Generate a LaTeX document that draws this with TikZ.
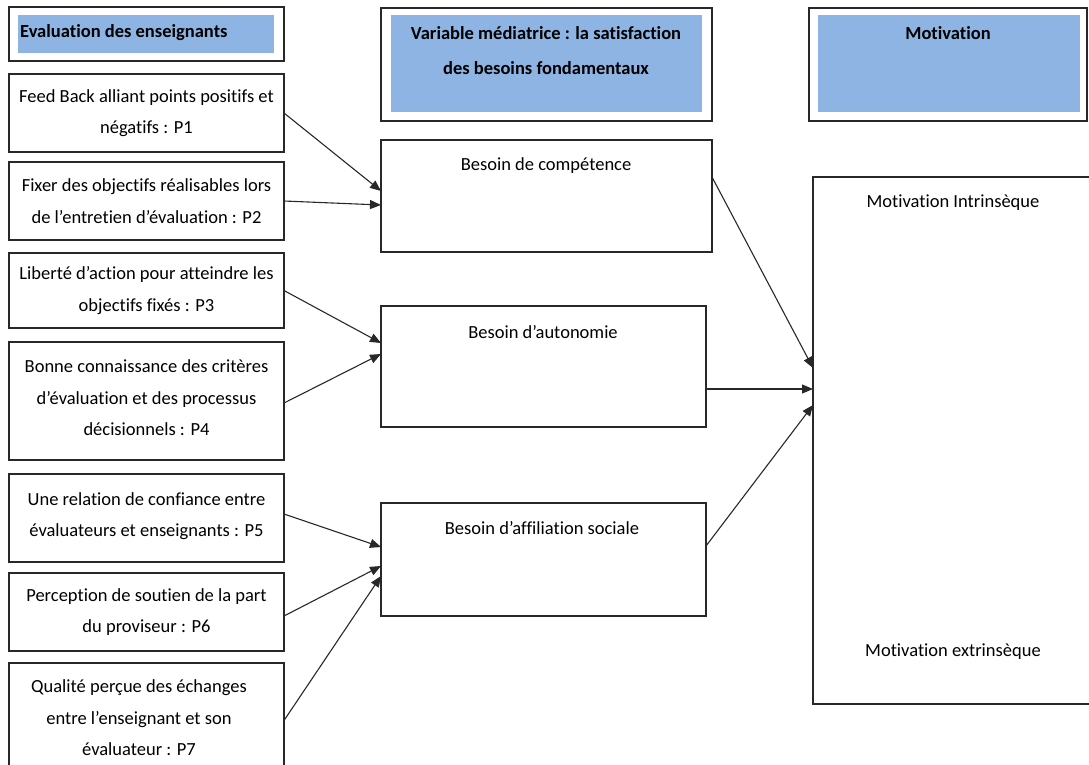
\documentclass[tikz,border=0pt]{standalone}
\usepackage{fontspec}
\setmainfont{Carlito}[Ligatures=NoCommon]
\usetikzlibrary{arrows.meta}
\definecolor{hdrblue}{RGB}{142,180,227}
\definecolor{edge}{RGB}{40,40,40}
\begin{document}
\begin{tikzpicture}[x=1pt,y=-1pt,
  frame/.style={draw=edge, line width=1.3pt, inner sep=0pt, outer sep=0pt, anchor=north west, fill=white},
  bluefill/.style={fill=hdrblue, draw=none, inner sep=0pt, outer sep=0pt, anchor=north west},
  txt/.style={inner sep=0pt, font=\fontsize{18.5}{31.5}\selectfont, align=center},
  hdtxt/.style={inner sep=0pt, font=\fontsize{18.5}{35}\selectfont\bfseries, align=center},
  arr/.style={draw=edge, line width=1.1pt, -{Triangle[length=11pt, width=9pt]}}
]
\useasboundingbox (0,0) rectangle (1089,764);
\clip (0,0) rectangle (1089,764);

% headers
\node[frame, minimum width=275pt, minimum height=54pt] (h1) at (9,7) {};
\node[bluefill, minimum width=256pt, minimum height=38pt] (h1b) at (18,15) {};
\node[hdtxt, anchor=west] (h1t) at (20,33) {Evaluation des enseignants};

\node[frame, minimum width=331pt, minimum height=113pt] (h2) at (381,8) {};
\node[bluefill, minimum width=311pt, minimum height=97pt] (h2b) at (391,15) {};
\node[hdtxt] (h2t) at (546,50.5) {Variable médiatrice : la satisfaction\\des besoins fondamentaux};

\node[frame, minimum width=278pt, minimum height=113pt] (h3) at (809,8) {};
\node[bluefill, minimum width=262pt, minimum height=97pt] (h3b) at (818,15) {};
\node[hdtxt] (h3t) at (948,33) {Motivation};

% left boxes
\node[frame, minimum width=275pt, minimum height=78pt] (p1) at (9,74) {};
\node[txt] (p1t) at (p1.center) {Feed Back alliant points positifs et\\négatifs : P1};
\node[frame, minimum width=275pt, minimum height=78pt] (p2) at (9,162) {};
\node[txt] (p2t) at (p2.center) {Fixer des objectifs réalisables lors\\de l’entretien d’évaluation : P2};
\node[frame, minimum width=275pt, minimum height=75pt] (p3) at (9,253) {};
\node[txt] (p3t) at (p3.center) {Liberté d’action pour atteindre les\\objectifs fixés : P3};
\node[frame, minimum width=275pt, minimum height=118pt] (p4) at (9,342) {};
\node[txt] (p4t) at ([yshift=3pt]p4.center) {Bonne connaissance des critères\\d’évaluation et des processus\\décisionnels : P4};
\node[frame, minimum width=275pt, minimum height=88pt] (p5) at (9,474) {};
\node[txt] (p5t) at ([yshift=2pt]p5.center) {Une relation de confiance entre\\évaluateurs et enseignants : P5};
\node[frame, minimum width=275pt, minimum height=78pt] (p6) at (9,573) {};
\node[txt] (p6t) at (p6.center) {Perception de soutien de la part\\du proviseur : P6};
\node[frame, minimum width=275pt, minimum height=115pt] (p7) at (9,663) {};
\node[txt] (p7t) at (139,718) {Qualité perçue des échanges\\entre l’enseignant et son\\évaluateur : P7};

% middle boxes
\node[frame, minimum width=331pt, minimum height=112pt] (comp) at (381,140) {};
\node[txt] (compt) at (546,166) {Besoin de compétence};
\node[frame, minimum width=325pt, minimum height=121pt] (auto) at (381,306) {};
\node[txt] (autot) at (543,332) {Besoin d’autonomie};
\node[frame, minimum width=325pt, minimum height=113pt] (affil) at (381,503) {};
\node[txt] (affilt) at (542,528) {Besoin d’affiliation sociale};

% right box
\node[frame, minimum width=285pt, minimum height=527pt] (mot) at (813,177) {};
\node[txt] (moti) at (953,203) {Motivation Intrinsèque};
\node[txt] (mote) at (953,652) {Motivation extrinsèque};

% arrows
\draw[arr] (p1.east) -- ([yshift=5pt]comp.west);
\draw[arr] (p2.east) -- ([yshift=-9pt]comp.west);
\draw[arr] (p3.east) -- ([yshift=23.5pt]auto.west);
\draw[arr] ([yshift=-2pt]p4.east) -- ([yshift=12.5pt]auto.west);
\draw[arr] ([yshift=4pt]p5.east) -- ([yshift=12.5pt]affil.west);
\draw[arr] ([yshift=-4pt]p6.east) -- ([yshift=-6.5pt]affil.west);
\draw[arr] (p7.east) -- ([yshift=-16.5pt]affil.west);
\draw[arr] ([yshift=19pt]comp.east) -- ([yshift=72.5pt]mot.west);
\draw[arr] ([yshift=-22.5pt]auto.east) -- ([yshift=51.5pt]mot.west);
\draw[arr] ([yshift=13.5pt]affil.east) -- ([yshift=35.5pt]mot.west);
\end{tikzpicture}
\end{document}
